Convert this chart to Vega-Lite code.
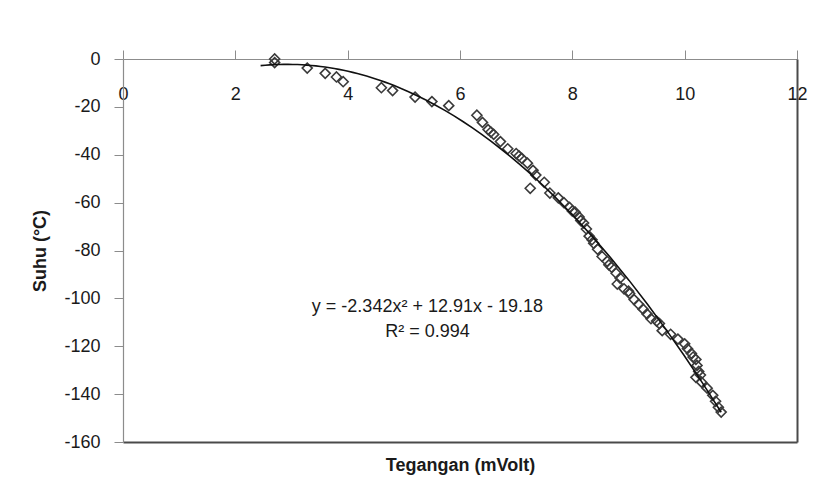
{
  "$schema": "https://vega.github.io/schema/vega-lite/v6.json",
  "width": 674,
  "height": 383,
  "autosize": {"type": "none"},
  "padding": {"left": 123, "top": 59, "right": 26, "bottom": 57},
  "background": "white",
  "config": {
    "view": {"stroke": null},
    "font": "Liberation Sans",
    "axis": {"grid": false, "labelFont": "Liberation Sans", "titleFont": "Liberation Sans", "labelColor": "#1a1a1a", "titleColor": "#1a1a1a"}
  },
  "datasets": {
    "pts": [
      {"x": 2.7, "y": 0}, {"x": 2.7, "y": -1.5}, {"x": 3.28, "y": -3.8}, {"x": 3.6, "y": -6},
      {"x": 3.8, "y": -7.5}, {"x": 3.92, "y": -9.5}, {"x": 4.6, "y": -12}, {"x": 4.8, "y": -13.2},
      {"x": 5.2, "y": -15.9}, {"x": 5.5, "y": -17.8}, {"x": 5.8, "y": -19.5}, {"x": 6.3, "y": -23.5},
      {"x": 6.4, "y": -26.5}, {"x": 6.5, "y": -29.5}, {"x": 6.55, "y": -30.5}, {"x": 6.6, "y": -31.5},
      {"x": 6.72, "y": -34.5}, {"x": 6.85, "y": -37.5}, {"x": 7.0, "y": -39.5}, {"x": 7.05, "y": -40.5},
      {"x": 7.1, "y": -41.5}, {"x": 7.2, "y": -43.5}, {"x": 7.3, "y": -46.5}, {"x": 7.25, "y": -54},
      {"x": 7.35, "y": -48.5}, {"x": 7.5, "y": -51.5}, {"x": 7.6, "y": -56}, {"x": 7.75, "y": -58},
      {"x": 7.85, "y": -60}, {"x": 7.95, "y": -62}, {"x": 8.0, "y": -63.5}, {"x": 8.05, "y": -64},
      {"x": 8.12, "y": -66}, {"x": 8.15, "y": -67.5}, {"x": 8.2, "y": -68.5}, {"x": 8.25, "y": -71},
      {"x": 8.3, "y": -74}, {"x": 8.35, "y": -75.5}, {"x": 8.38, "y": -77}, {"x": 8.45, "y": -79.5},
      {"x": 8.53, "y": -82.5}, {"x": 8.62, "y": -84.5}, {"x": 8.65, "y": -86}, {"x": 8.7, "y": -87},
      {"x": 8.78, "y": -89.5}, {"x": 8.85, "y": -91.5}, {"x": 8.8, "y": -94}, {"x": 8.92, "y": -96},
      {"x": 9.0, "y": -97}, {"x": 9.02, "y": -98}, {"x": 9.1, "y": -100.5}, {"x": 9.18, "y": -102.5},
      {"x": 9.26, "y": -104.5}, {"x": 9.33, "y": -106.5}, {"x": 9.4, "y": -108.5}, {"x": 9.5, "y": -109.5},
      {"x": 9.55, "y": -110.5}, {"x": 9.6, "y": -113.5}, {"x": 9.75, "y": -115}, {"x": 9.88, "y": -117},
      {"x": 10.0, "y": -119}, {"x": 10.05, "y": -121}, {"x": 10.12, "y": -123}, {"x": 10.15, "y": -124.5},
      {"x": 10.2, "y": -125.5}, {"x": 10.22, "y": -128}, {"x": 10.25, "y": -130.5}, {"x": 10.28, "y": -132},
      {"x": 10.2, "y": -133}, {"x": 10.3, "y": -135}, {"x": 10.4, "y": -137.5}, {"x": 10.5, "y": -140.5},
      {"x": 10.55, "y": -143}, {"x": 10.6, "y": -145.5}, {"x": 10.65, "y": -147.5}
    ],
    "notes": [
      {"x": 5.42, "y": -103.8, "label": "y = -2.342x² + 12.91x - 19.18"},
      {"x": 5.42, "y": -114.2, "label": "R² = 0.994"}
    ]
  },
  "resolve": {"axis": {"x": "independent", "y": "independent"}},
  "layer": [
    {
      "data": {"name": "pts"},
      "mark": {"type": "point", "shape": "diamond", "filled": false, "size": 100, "stroke": "#3a3a3a", "strokeWidth": 1.6, "opacity": 1},
      "encoding": {
        "x": {"field": "x", "type": "quantitative", "scale": {"domain": [0, 12], "nice": false, "zero": false},
          "axis": {"orient": "top", "values": [0, 2, 4, 6, 8, 10, 12], "title": null, "tickSize": 9, "tickColor": "#8c8c8c", "domainColor": "#8c8c8c", "domainWidth": 1.2, "labelFontSize": 18, "labelBaseline": "top", "labelPadding": -35, "labelFlush": false, "labelExpr": "'' + datum.value"}},
        "y": {"field": "y", "type": "quantitative", "scale": {"domain": [-160, 0], "nice": false, "zero": false},
          "axis": {"orient": "left", "values": [0, -20, -40, -60, -80, -100, -120, -140, -160], "title": "Suhu (°C)", "titleFontSize": 18, "titleFontWeight": "bold", "titlePadding": 14, "tickSize": 9, "tickColor": "#8c8c8c", "domainColor": "#8c8c8c", "domainWidth": 1.2, "labelFontSize": 18, "labelPadding": 14, "labelFlush": false, "labelExpr": "'' + datum.value"}}
      }
    },
    {
      "data": {"name": "pts"},
      "transform": [{"regression": "y", "on": "x", "method": "poly", "order": 2, "extent": [2.45, 10.65]}],
      "mark": {"type": "line", "color": "#111111", "strokeWidth": 1.6},
      "encoding": {
        "x": {"field": "x", "type": "quantitative", "scale": {"domain": [0, 12], "nice": false, "zero": false},
          "axis": {"orient": "bottom", "title": "Tegangan (mVolt)", "titleFontSize": 18, "titleFontWeight": "bold", "titlePadding": 14, "labels": false, "ticks": false, "domainColor": "#4a4a4a", "domainWidth": 2}},
        "y": {"field": "y", "type": "quantitative", "scale": {"domain": [-160, 0], "nice": false, "zero": false},
          "axis": {"orient": "right", "title": null, "labels": false, "ticks": false, "domainColor": "#4a4a4a", "domainWidth": 2}}
      }
    },
    {
      "data": {"name": "notes"},
      "mark": {"type": "text", "fontSize": 18, "font": "Liberation Sans", "color": "#1a1a1a", "align": "center", "baseline": "middle"},
      "encoding": {
        "x": {"field": "x", "type": "quantitative", "axis": null},
        "y": {"field": "y", "type": "quantitative", "axis": null},
        "text": {"field": "label"}
      }
    }
  ]
}
